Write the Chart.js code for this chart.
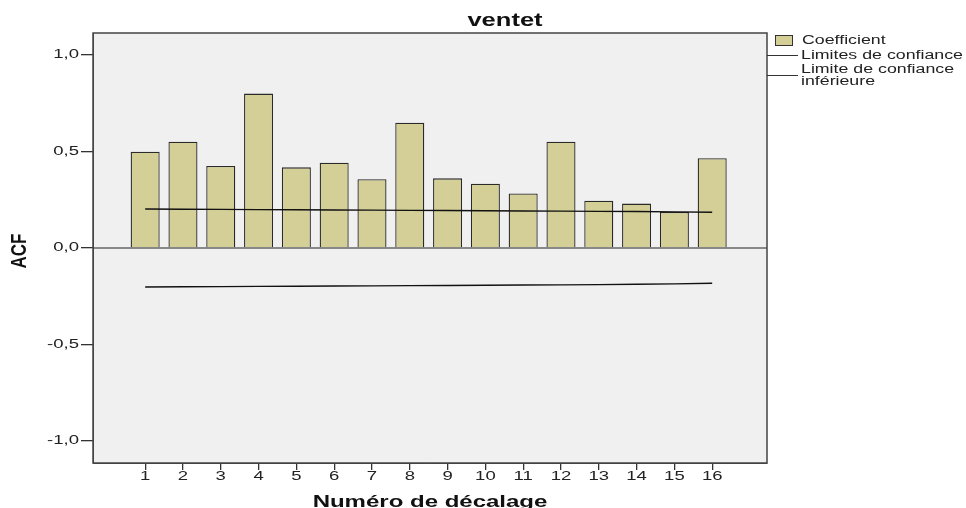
<!DOCTYPE html>
<html>
<head>
<meta charset="utf-8">
<script src="https://cdn.jsdelivr.net/npm/chart.js@4"></script>
<style>
  body { margin: 0; background: #fff; }
</style>
</head>
<body>
<canvas id="chart" width="966" height="508"></canvas>
<script>
const lags = [1, 2, 3, 4, 5, 6, 7, 8, 9, 10, 11, 12, 13, 14, 15, 16];
const coef = [0.499, 0.551, 0.425, 0.800, 0.418, 0.442, 0.356, 0.649, 0.361, 0.333, 0.283, 0.551, 0.245, 0.230, 0.187, 0.465];
const upper = [0.202, 0.201, 0.200, 0.199, 0.198, 0.197, 0.196, 0.195, 0.194, 0.193, 0.192, 0.191, 0.190, 0.189, 0.187, 0.185];
const lower = [-0.202, -0.201, -0.200, -0.199, -0.198, -0.197, -0.196, -0.195, -0.194, -0.193, -0.192, -0.191, -0.190, -0.188, -0.186, -0.183];
const yTicks = [-1, -0.5, 0, 0.5, 1];

const barColor = '#d4cf97';
const font = 'Liberation Sans, Arial, sans-serif';

// the reference text is drawn wide, so stretch it horizontally around its anchor
function wideText(ctx, text, x, y, f, align, sx = 1.48) {
    ctx.save();
    ctx.font = f;
    ctx.textAlign = align;
    ctx.translate(x, y);
    ctx.scale(sx, 1);
    ctx.fillText(text, 0, 0);
    ctx.restore();
}

const frame = {
    id: 'frame',
    beforeDraw(chart) {
        const ctx = chart.ctx, a = chart.chartArea;
        ctx.save();
        ctx.fillStyle = '#fff';
        ctx.fillRect(0, 0, chart.width, chart.height);
        ctx.fillStyle = '#f0f0f0';
        ctx.fillRect(a.left, a.top, a.right - a.left, a.bottom - a.top);
        ctx.restore();
    },
    afterDatasetsDraw(chart) {
        const ctx = chart.ctx, a = chart.chartArea;
        const y0 = chart.scales.y.getPixelForValue(0);
        ctx.save();
        ctx.strokeStyle = '#222';
        ctx.lineWidth = 1.2;
        ctx.beginPath();
        ctx.moveTo(a.left, y0);
        ctx.lineTo(a.right, y0);
        ctx.stroke();
        ctx.strokeStyle = '#444';
        ctx.lineWidth = 1.5;
        ctx.strokeRect(a.left, a.top, a.right - a.left, a.bottom - a.top);
        ctx.restore();
    },
    afterDraw(chart) {
        const ctx = chart.ctx, a = chart.chartArea;
        const xs = chart.scales.x, ys = chart.scales.y;
        ctx.save();
        ctx.fillStyle = '#222';
        ctx.textBaseline = 'middle';
        // tick labels
        xs.ticks.forEach(t => wideText(ctx, String(t.value), xs.getPixelForValue(t.value), 477, '12.5px ' + font, 'center'));
        ys.ticks.forEach(t => wideText(ctx, t.value.toFixed(1).replace('.', ','), 79, ys.getPixelForValue(t.value), '12.5px ' + font, 'right'));
        // titles
        ctx.fillStyle = '#111';
        ctx.textBaseline = 'alphabetic';
        wideText(ctx, 'ventet', 505, 26, 'bold 18.5px ' + font, 'center', 1.38);
        wideText(ctx, 'Numéro de décalage', (a.left + a.right) / 2, 507, 'bold 16px ' + font, 'center', 1.5);
        ctx.save();
        ctx.translate(26, 251);
        ctx.scale(1.3, 1);
        ctx.rotate(-Math.PI / 2);
        ctx.font = 'bold 17px ' + font;
        ctx.textAlign = 'center';
        ctx.fillText('ACF', 0, 0);
        ctx.restore();
        // legend
        ctx.fillStyle = barColor;
        ctx.fillRect(775, 35, 17, 10);
        ctx.strokeStyle = '#333';
        ctx.lineWidth = 1;
        ctx.strokeRect(775.5, 35.5, 17, 10);
        ctx.beginPath();
        ctx.moveTo(a.right, 55.5);
        ctx.lineTo(798, 55.5);
        ctx.moveTo(a.right, 75.5);
        ctx.lineTo(798, 75.5);
        ctx.stroke();
        ctx.fillStyle = '#222';
        ctx.textBaseline = 'middle';
        wideText(ctx, 'Coefficient', 802, 41, '12px ' + font, 'left');
        wideText(ctx, 'Limites de confiance', 801, 55.5, '12px ' + font, 'left');
        wideText(ctx, 'Limite de confiance', 801, 70, '12px ' + font, 'left');
        wideText(ctx, 'inférieure', 801, 82, '12px ' + font, 'left');
        ctx.restore();
    }
};

new Chart(document.getElementById('chart'), {
    data: {
        datasets: [
            {
                type: 'line',
                label: 'Limites de confiance',
                data: lags.map((l, i) => ({ x: l, y: upper[i] })),
                borderColor: '#111',
                borderWidth: 1.4,
                pointRadius: 0,
                order: 1
            },
            {
                type: 'line',
                label: 'Limite de confiance inférieure',
                data: lags.map((l, i) => ({ x: l, y: lower[i] })),
                borderColor: '#111',
                borderWidth: 1.4,
                pointRadius: 0,
                order: 1
            },
            {
                type: 'bar',
                label: 'Coefficient',
                data: lags.map((l, i) => ({ x: l, y: coef[i] })),
                backgroundColor: barColor,
                borderColor: '#2a2a2a',
                borderWidth: 1.3,
                barPercentage: 0.96,
                categoryPercentage: 0.8,
                order: 2
            }
        ]
    },
    options: {
        responsive: false,
        animation: false,
        layout: { padding: { top: 33, right: 199, bottom: 0, left: 0 } },
        plugins: { legend: { display: false }, tooltip: { enabled: false } },
        scales: {
            x: {
                type: 'linear',
                offset: false,
                min: -0.38,
                max: 17.45,
                afterBuildTicks: s => { s.ticks = lags.map(v => ({ value: v })); },
                afterFit: s => { s.height = 45; },
                grid: { offset: false, drawOnChartArea: false, drawTicks: true, tickLength: 7, color: '#333', lineWidth: 1.3 },
                border: { display: true, color: '#444' },
                ticks: { display: false }
            },
            y: {
                min: -1.114,
                max: 1.114,
                afterBuildTicks: s => { s.ticks = yTicks.map(v => ({ value: v })); },
                afterFit: s => { s.width = 93; },
                grid: { drawOnChartArea: false, drawTicks: true, tickLength: 12, color: '#333', lineWidth: 1.3 },
                border: { display: true, color: '#444' },
                ticks: { display: false }
            }
        }
    },
    plugins: [frame]
});
</script>
</body>
</html>
